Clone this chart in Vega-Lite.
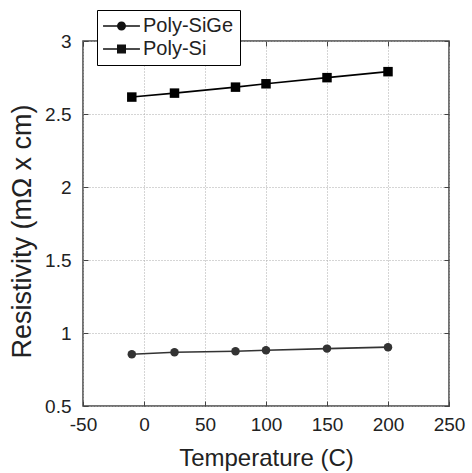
{
  "$schema": "https://vega.github.io/schema/vega-lite/v6.json",
  "autosize": "none",
  "width": 366,
  "height": 365,
  "padding": {"left": 83, "top": 41, "right": 23, "bottom": 67},
  "background": "white",
  "config": {
    "view": {"stroke": "#444", "strokeWidth": 1.5},
    "font": "Liberation Sans"
  },
  "data": {
    "values": [
      {"series": "Poly-SiGe", "temp": -10, "res": 0.854},
      {"series": "Poly-SiGe", "temp": 25, "res": 0.868},
      {"series": "Poly-SiGe", "temp": 75, "res": 0.875},
      {"series": "Poly-SiGe", "temp": 100, "res": 0.882},
      {"series": "Poly-SiGe", "temp": 150, "res": 0.893},
      {"series": "Poly-SiGe", "temp": 200, "res": 0.903},
      {"series": "Poly-Si", "temp": -10, "res": 2.616},
      {"series": "Poly-Si", "temp": 25, "res": 2.643},
      {"series": "Poly-Si", "temp": 75, "res": 2.684},
      {"series": "Poly-Si", "temp": 100, "res": 2.707},
      {"series": "Poly-Si", "temp": 150, "res": 2.749},
      {"series": "Poly-Si", "temp": 200, "res": 2.79}
    ]
  },
  "resolve": {
    "axis": {"x": "independent", "y": "independent"},
    "scale": {"shape": "independent", "size": "independent"},
    "legend": {"shape": "independent"}
  },
  "layer": [
    {
      "mark": {"type": "line", "strokeWidth": 1.6},
      "encoding": {
        "x": {
          "field": "temp", "type": "quantitative",
          "scale": {"domain": [-50, 250], "nice": false, "zero": false},
          "axis": {
            "title": "Temperature (C)", "titleFontSize": 24, "titleFontWeight": "normal", "titleColor": "#222", "titlePadding": 12,
            "values": [-50, 0, 50, 100, 150, 200, 250],
            "labelExpr": "'' + datum.value", "labelFontSize": 19, "labelColor": "#222", "labelPadding": 14, "labelFlush": false,
            "domain": false, "ticks": true, "tickSize": -5, "tickColor": "#444",
            "grid": true, "gridColor": "#aaa", "gridDash": [1, 2], "gridWidth": 1
          }
        },
        "y": {
          "field": "res", "type": "quantitative",
          "scale": {"domain": [0.5, 3], "nice": false, "zero": false},
          "axis": {
            "title": "Resistivity (mΩ x cm)", "titleFontSize": 27, "titleFontWeight": "normal", "titleColor": "#222", "titlePadding": 8, "titleY": 190,
            "values": [0.5, 1, 1.5, 2, 2.5, 3],
            "labelExpr": "'' + datum.value", "labelFontSize": 19, "labelColor": "#222", "labelPadding": 17, "labelFlush": false,
            "domain": false, "ticks": true, "tickSize": -5, "tickColor": "#444",
            "grid": true, "gridColor": "#aaa", "gridDash": [1, 2], "gridWidth": 1
          }
        },
        "color": {
          "field": "series", "type": "nominal",
          "scale": {"domain": ["Poly-SiGe", "Poly-Si"], "range": ["#333", "#000"]},
          "legend": null
        },
        "detail": {"field": "series"}
      }
    },
    {
      "mark": {"type": "point", "filled": true, "opacity": 1},
      "encoding": {
        "x": {
          "field": "temp", "type": "quantitative",
          "axis": {"orient": "top", "title": null, "labels": false, "domain": false, "grid": false, "ticks": true, "tickSize": -5, "tickColor": "#444", "values": [-50, 0, 50, 100, 150, 200, 250]}
        },
        "y": {
          "field": "res", "type": "quantitative",
          "axis": {"orient": "right", "title": null, "labels": false, "domain": false, "grid": false, "ticks": true, "tickSize": -5, "tickColor": "#444", "values": [0.5, 1, 1.5, 2, 2.5, 3]}
        },
        "color": {"field": "series", "type": "nominal", "legend": null},
        "shape": {
          "field": "series", "type": "nominal",
          "scale": {"domain": ["Poly-SiGe", "Poly-Si"], "range": ["circle", "square"]},
          "legend": null
        },
        "size": {
          "field": "series", "type": "nominal",
          "scale": {"domain": ["Poly-SiGe", "Poly-Si"], "range": [72, 90]},
          "legend": null
        }
      }
    },
    {
      "mark": {"type": "point", "filled": true, "opacity": 0, "size": 324, "color": "#111"},
      "encoding": {
        "x": {"field": "temp", "type": "quantitative", "axis": null},
        "y": {"field": "res", "type": "quantitative", "axis": null},
        "shape": {
          "field": "series", "type": "nominal",
          "scale": {
            "domain": ["Poly-SiGe", "Poly-Si"],
            "range": [
              "M-2.05,-0.09H2.05V0.09H-2.05ZM-0.5,0A0.5,0.5 0 1,1 0.5,0A0.5,0.5 0 1,1 -0.5,0Z",
              "M-2.05,-0.09H2.05V0.09H-2.05ZM-0.5,-0.5H0.5V0.5H-0.5Z"
            ]
          },
          "legend": {
            "title": null,
            "orient": "none",
            "legendX": 14,
            "legendY": -31,
            "padding": 6,
            "fillColor": "white",
            "strokeColor": "#000",
            "labelFont": "Liberation Sans",
            "labelFontSize": 20,
            "labelColor": "#222",
            "labelOffset": 11.5,
            "symbolOffset": 8.5,
            "rowPadding": 3,
            "symbolSize": 324,
            "symbolStrokeWidth": 0,
            "symbolFillColor": "#111",
            "symbolOpacity": 1,
            "encode": {
              "legend": {"update": {"strokeWidth": {"value": 2}}},
              "symbols": {"update": {"opacity": {"value": 1}, "strokeWidth": {"value": 0}, "fill": {"value": "#111"}}}
            }
          }
        }
      }
    }
  ]
}
